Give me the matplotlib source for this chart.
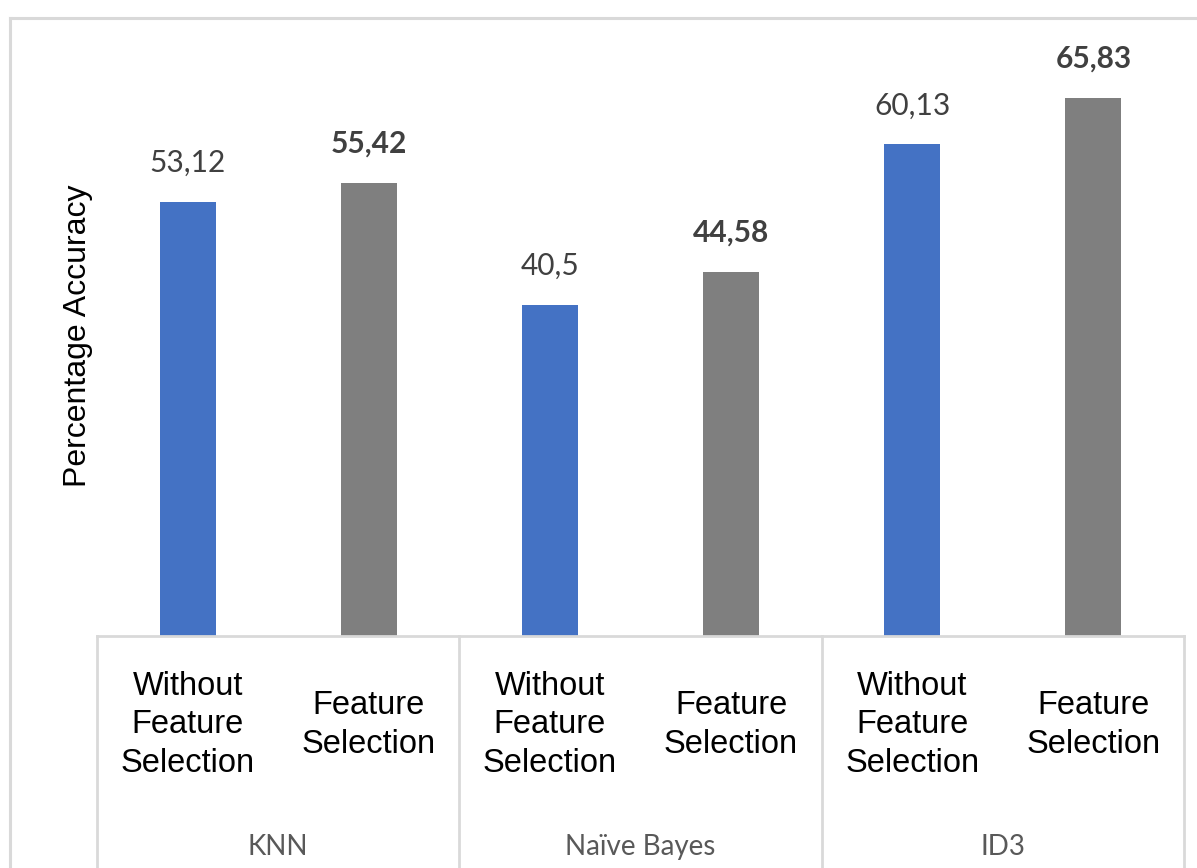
import matplotlib
matplotlib.use('Agg')
import matplotlib.pyplot as plt
from matplotlib.lines import Line2D

# data
algorithms = ['KNN', 'Naïve Bayes', 'ID3']
conditions = ['Without\nFeature\nSelection', 'Feature\nSelection']
without_fs = [53.12, 40.5, 60.13]
with_fs = [55.42, 44.58, 65.83]
without_labels = ['53,12', '40,5', '60,13']
with_labels = ['55,42', '44,58', '65,83']

BLUE = '#4472C4'
GRAY = '#7F7F7F'
LINE = '#D9D9D9'
HUMAN = ['Lato', 'DejaVu Sans']
ARIAL = ['Liberation Sans', 'DejaVu Sans']

W, H = 1197, 868
fig = plt.figure(figsize=(W / 100, H / 100), dpi=100)
fig.patch.set_facecolor('white')

# axes placed so the baseline sits at y=636 px and groups span x=97..1184 px
ax = fig.add_axes([97 / W, (H - 636) / H, (1184 - 97) / W, (636 - 18) / H])

x_blue = [2 * i for i in range(len(algorithms))]
x_gray = [2 * i + 1 for i in range(len(algorithms))]
bw = 0.31

ax.bar(x_blue, without_fs, width=bw, color=BLUE, zorder=2)
ax.bar(x_gray, with_fs, width=bw, color=GRAY, zorder=2)

ax.set_xlim(-0.5, 2 * len(algorithms) - 0.5)
ax.set_ylim(0, 75.6)

# value labels
for xb, v, lab in zip(x_blue, without_fs, without_labels):
    ax.annotate(lab, (xb, v), xytext=(0, 28), textcoords='offset points',
                ha='center', va='center', fontsize=21.5, color='#404040',
                family=HUMAN)
for xg, v, lab in zip(x_gray, with_fs, with_labels):
    ax.annotate(lab, (xg, v), xytext=(0, 28), textcoords='offset points',
                ha='center', va='center', fontsize=21.5, color='#404040',
                fontweight='bold', family=HUMAN)

# category axis
ax.set_xticks([])
ax.set_yticks([])
for side in ['top', 'right', 'left']:
    ax.spines[side].set_visible(False)
ax.spines['bottom'].set_color(LINE)
ax.spines['bottom'].set_linewidth(2)

trans = ax.get_xaxis_transform()
for i in range(len(algorithms) + 1):
    ax.plot([2 * i - 0.5, 2 * i - 0.5], [0, -0.5], transform=trans,
            color=LINE, linewidth=2, clip_on=False)

for i, alg in enumerate(algorithms):
    for j, cond in enumerate(conditions):
        ax.text(2 * i + j, -0.144, cond, transform=trans, ha='center',
                va='center', fontsize=23.5, family=ARIAL, color='black',
                linespacing=1.33)
    ax.text(2 * i + 0.5, -0.342, alg, transform=trans, ha='center',
            va='center', fontsize=20, color='#595959', family=HUMAN)

# y label
fig.text(78 / W, (H - 336) / H, 'Percentage Accuracy', rotation=90,
         ha='center', va='center', fontsize=23, family=ARIAL, color='black')

# outer chart frame (cropped screenshot)
fig.add_artist(Line2D([10 / W, 1.0], [(H - 18) / H, (H - 18) / H],
                      transform=fig.transFigure, color=LINE, linewidth=2.2))
fig.add_artist(Line2D([10 / W, 10 / W], [0, (H - 18) / H],
                      transform=fig.transFigure, color=LINE, linewidth=2.2))

fig.savefig('out.png', dpi=100, facecolor='white')
